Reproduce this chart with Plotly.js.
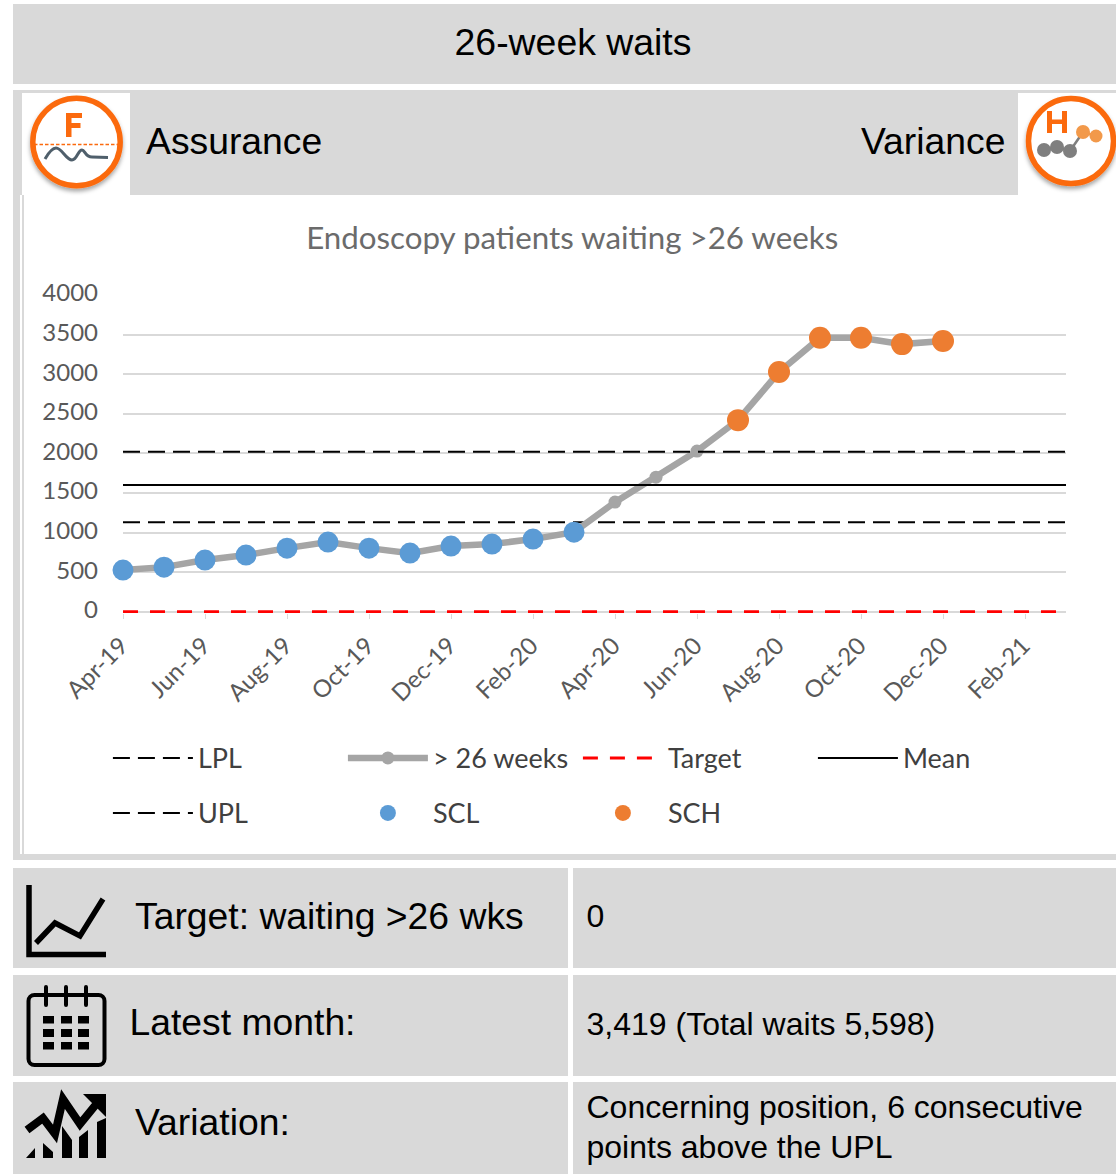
<!DOCTYPE html>
<html><head><meta charset="utf-8">
<script src="https://cdn.plot.ly/plotly-3.0.1.min.js"></script>
<style>
html,body{margin:0;padding:0;background:#fff;width:1116px;height:1174px;overflow:hidden}
#page{position:relative;width:1116px;height:1174px;font-family:"Liberation Sans",Arial,sans-serif;color:#000}
.b{position:absolute;background:#d9d9d9}
.w{position:absolute;background:#fff}
.t{position:absolute;white-space:nowrap;line-height:1}
svg{position:absolute;left:0;top:0}
#chart{position:absolute;left:24px;top:195px;width:1092px;height:659px}
</style></head><body>
<div id="page">
<div class="b" style="left:13px;top:4px;width:1103px;height:80px"></div>
<div class="t" style="left:13px;width:1120px;text-align:center;top:24px;font-size:37.400px">26-week waits</div>
<div class="b" style="left:13px;top:90px;width:1103px;height:770px"></div>
<div class="w" style="left:22px;top:93px;width:108px;height:102px"></div>
<div class="w" style="left:1018px;top:93px;width:98px;height:102px"></div>
<div class="w" style="left:20px;top:195px;width:1096px;height:659px"></div>
<div style="position:absolute;left:22px;top:195px;width:2px;height:659px;background:#d9d9d9"></div>
<div class="t" style="left:146px;top:123px;font-size:37.300px">Assurance</div>
<div class="t" style="left:861px;top:123px;font-size:37.300px">Variance</div>
<div id="chart"></div>
<div class="b" style="left:13px;top:868px;width:555px;height:100px"></div>
<div class="b" style="left:573px;top:868px;width:543px;height:100px"></div>
<div class="b" style="left:13px;top:975px;width:555px;height:101px"></div>
<div class="b" style="left:573px;top:975px;width:543px;height:101px"></div>
<div class="b" style="left:13px;top:1082px;width:555px;height:92px"></div>
<div class="b" style="left:573px;top:1082px;width:543px;height:92px"></div>
<div class="t" style="left:135px;top:898px;font-size:37.300px">Target: waiting &gt;26 wks</div>
<div class="t" style="left:129.500px;top:1004px;font-size:37.300px">Latest month:</div>
<div class="t" style="left:135px;top:1104px;font-size:37.300px">Variation:</div>
<div class="t" style="left:586.500px;top:900px;font-size:32px">0</div>
<div class="t" style="left:586.500px;top:1008px;font-size:32px">3,419 (Total waits 5,598)</div>
<div class="t" style="left:586.500px;top:1091px;font-size:32px">Concerning position, 6 consecutive</div>
<div class="t" style="left:586.500px;top:1131px;font-size:32px">points above the UPL</div>
<svg width="1116" height="1174" viewBox="0 0 1116 1174">
<defs><filter id="s" x="-20%" y="-20%" width="140%" height="140%"><feDropShadow dx="0" dy="3" stdDeviation="2" flood-color="#000" flood-opacity=".35"/></filter></defs>
<circle cx="76.500" cy="142" r="43.700" fill="#fff" stroke="#fb6a0e" stroke-width="5.500" filter="url(#s)"/>
<path d="M66 137V113H82V118H71.500V123H80.500V128H71.500V137Z" fill="#fb6a0e"/>
<line x1="34" y1="144.500" x2="119" y2="144.500" stroke="#fb6a0e" stroke-width="1.600" stroke-dasharray="3.500 2"/>
<path d="M45 159C49 152 52 148 56 148C62 148 66 160 72 160C77 160 78 150 82 150C85 150 85 157 92 157L108 157.500" fill="none" stroke="#4f5f6b" stroke-width="3"/>
<circle cx="1071" cy="141" r="42.500" fill="#fff" stroke="#fb6a0e" stroke-width="5.500" filter="url(#s)"/>
<path d="M1047 133V111H1052V119.500H1062V111H1067V133H1062V124H1052V133Z" fill="#fb6a0e"/>
<polyline points="1044,150 1057,147 1070,151 1083,132" fill="none" stroke="#7f7f7f" stroke-width="2.500"/>
<polyline points="1083,132 1096,136" fill="none" stroke="#f2994a" stroke-width="2.500"/>
<circle cx="1044" cy="150" r="7" fill="#7f7f7f"/><circle cx="1057" cy="147" r="7" fill="#7f7f7f"/><circle cx="1070" cy="151" r="7" fill="#7f7f7f"/>
<circle cx="1083" cy="132" r="7" fill="#f2994a"/><circle cx="1096" cy="136" r="6.500" fill="#f2994a"/>
<path d="M29 885V954.500H106" fill="none" stroke="#000" stroke-width="5.500"/>
<polyline points="36,943 55,923 80,936 103,899" fill="none" stroke="#000" stroke-width="5.500"/>
<rect x="28.500" y="995" width="76" height="70" rx="6" fill="none" stroke="#000" stroke-width="4"/>
<path d="M46 987V1005M66 987V1005M86 987V1005" stroke="#000" stroke-width="4" stroke-linecap="round"/>
<path d="M43 1016h11v7.500h-11zM61 1016h11v7.500h-11zM78 1016h11v7.500h-11zM43 1029h11v8h-11zM61 1029h11v8h-11zM78 1029h11v8h-11zM43 1042h11v7.500h-11zM61 1042h11v7.500h-11zM78 1042h11v7.500h-11z" fill="#000"/>
<polyline points="27,1130 43,1118 55,1134 63,1099 80,1124 98,1102" fill="none" stroke="#000" stroke-width="8"/>
<path d="M83 1094H106V1117Z" fill="#000"/>
<path d="M26 1158L35 1148V1158ZM43 1143L53 1152V1158H43ZM62 1126L72 1140V1158H62ZM79 1137L88 1130V1158H79ZM97 1122L106 1118V1158H97Z" fill="#000"/>
</svg>
</div>
<script>
var months=["Apr-19","May-19","Jun-19","Jul-19","Aug-19","Sep-19","Oct-19","Nov-19","Dec-19","Jan-20","Feb-20","Mar-20","Apr-20","May-20","Jun-20","Jul-20","Aug-20","Sep-20","Oct-20","Nov-20","Dec-20","Jan-21","Feb-21","Mar-21"];
var waits=[527,564,653,716,804,880,804,741,830,855,918,1006,1385,1700,2029,2420,3027,3460,3460,3380,3419];
var sclMonths=["Apr-19","May-19","Jun-19","Jul-19","Aug-19","Sep-19","Oct-19","Nov-19","Dec-19","Jan-20","Feb-20","Mar-20"];
var sclValues=[527,564,653,716,804,880,804,741,830,855,918,1006];
var schMonths=["Jul-20","Aug-20","Sep-20","Oct-20","Nov-20","Dec-20"];
var schValues=[2420,3027,3460,3460,3380,3419];
var lineEnds=["Apr-19","Mar-21"];
var lplValue=[1130,1130];
var uplValue=[2020,2020];
var meanValue=[1600,1600];
var targetValue=[0,0];
var yTicks=[0,500,1000,1500,2000,2500,3000,3500,4000];
var xTicks=["Apr-19","Jun-19","Aug-19","Oct-19","Dec-19","Feb-20","Apr-20","Jun-20","Aug-20","Oct-20","Dec-20","Feb-21"];

var blackDash="17px,8px";
var traces=[
{name:"LPL",x:lineEnds,y:lplValue,mode:"lines",line:{color:"#000",width:2,dash:blackDash},legend:"legend"},
{name:"> 26 weeks",x:months.slice(0,waits.length),y:waits,mode:"lines+markers",line:{color:"#a5a5a5",width:6.500},marker:{color:"#a5a5a5",size:13},legend:"legend"},
{name:"Target",x:lineEnds,y:targetValue,mode:"lines",line:{color:"#ff0000",width:3,dash:"15px,12px"},legend:"legend"},
{name:"Mean",x:lineEnds,y:meanValue,mode:"lines",line:{color:"#000",width:2},legend:"legend"},
{name:"UPL",x:lineEnds,y:uplValue,mode:"lines",line:{color:"#000",width:2,dash:blackDash},legend:"legend2"},
{name:"SCL",x:sclMonths,y:sclValues,mode:"markers",marker:{color:"#5b9bd5",size:21},legend:"legend2"},
{name:"SCH",x:schMonths,y:schValues,mode:"markers",marker:{color:"#ed7d31",size:22},legend:"legend2"}
];
var fontName="Lato, sans-serif";
var legendBase={orientation:"h",x:-0.016,xanchor:"left",yanchor:"middle",entrywidth:140,entrywidthmode:"pixels",itemwidth:80,bgcolor:"rgba(0,0,0,0)",font:{family:fontName,size:27,color:"#404040"},traceorder:"normal"};
var layout={
 width:1092,height:659,
 margin:{l:99,r:50,t:100,b:241.100,pad:0},
 paper_bgcolor:"rgba(0,0,0,0)",plot_bgcolor:"rgba(0,0,0,0)",
 title:{text:"Endoscopy patients waiting >26 weeks",font:{family:fontName,size:31.300,color:"#6b6b6b"},x:0.502,xanchor:"center",y:0.935,yanchor:"middle",xref:"container",yref:"container"},
 xaxis:{type:"category",categoryorder:"array",categoryarray:months,range:[0,23],tickmode:"array",tickvals:xTicks,ticktext:xTicks,tickangle:-45,ticks:"outside",ticklen:5,tickcolor:"#d9d9d9",showgrid:false,showline:false,zeroline:false,layer:"below traces",tickfont:{family:fontName,size:24,color:"#595959"},ticklabelstandoff:3,ticklabelshift:-2,fixedrange:true},
 yaxis:{range:[-15,4000],tickmode:"array",tickvals:yTicks,ticks:"",showgrid:true,gridcolor:"#d9d9d9",gridwidth:2,zeroline:false,showline:false,layer:"below traces",tickfont:{family:fontName,size:24,color:"#595959"},ticklabelstandoff:24,ticklabelshift:-2,fixedrange:true},
 legend:Object.assign({},legendBase,{y:-0.457}),
 legend2:Object.assign({},legendBase,{y:-0.630}),
 showlegend:true
};
traces.forEach(function(t){t.cliponaxis=false;});
Plotly.newPlot("chart",traces,layout,{displayModeBar:false,staticPlot:true});
</script>
</body></html>
